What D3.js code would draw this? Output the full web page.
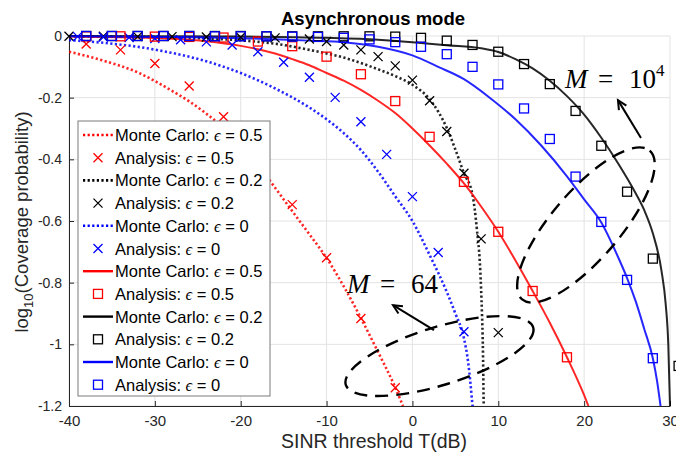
<!DOCTYPE html>
<html>
<head>
<meta charset="utf-8">
<script src="https://cdn.jsdelivr.net/npm/d3@7"></script>
<style>
  html, body { margin: 0; padding: 0; background: #fff; }
  svg { display: block; }
  text { font-family: "Liberation Sans", Arial, sans-serif; }
</style>
</head>
<body>
<svg id="chart" width="676" height="453"></svg>
<script>
// ---- axis ticks ----
const xTicks = [-40, -30, -20, -10, 0, 10, 20, 30];
const yTicks = [0, -0.2, -0.4, -0.6, -0.8, -1, -1.2];

// ---- M = 64 : Monte Carlo curves [T (dB), log10 Pc] ----
const mc64_e05 = [[-40,-0.051],[-36,-0.08],[-32,-0.118],[-30,-0.146],[-28,-0.178],[-26,-0.212],[-24,-0.252],[-22,-0.298],
  [-20,-0.352],[-18,-0.418],[-16,-0.492],[-14,-0.568],[-12,-0.643],[-10,-0.72],[-8,-0.812],[-6,-0.915],[-4,-1.025],[-2,-1.14],[-1.1,-1.2]];
const mc64_e02 = [[-40,-0.001],[-32,-0.003],[-24,-0.008],[-20,-0.014],[-16,-0.025],[-12,-0.045],[-8,-0.07],[-4,-0.108],
  [-2,-0.13],[0,-0.158],[2,-0.205],[3,-0.245],[4,-0.298],[5,-0.368],[6,-0.445],[7,-0.515],[7.5,-0.625],[7.9,-0.76],[8.1,-0.9],[8.2,-1.0],[8.3,-1.2]];
const mc64_e0 = [[-40,-0.013],[-36,-0.022],[-32,-0.035],[-28,-0.055],[-24,-0.082],[-20,-0.12],[-16,-0.17],[-12,-0.232],
  [-10,-0.27],[-8,-0.315],[-6,-0.37],[-4,-0.44],[-2,-0.52],[0,-0.6],[2,-0.71],[4,-0.83],[5,-0.9],[6,-0.98],[6.5,-1.06],[7,-1.2]];

// ---- M = 64 : analysis points ----
const an64_e05 = [[-38,-0.026],[-34,-0.045],[-30,-0.089],[-26,-0.162],[-22,-0.262],[-18,-0.39],[-14,-0.547],[-10,-0.719],[-6,-0.916],[-2,-1.141]];
const an64_e02 = [[-40,-0.001],[-36,-0.001],[-32,-0.002],[-28,-0.002],[-24,-0.003],[-20,-0.004],[-16,-0.006],[-12,-0.01],
  [-10,-0.018],[-8,-0.029],[-6,-0.045],[-4,-0.067],[-2,-0.097],[0,-0.143],[2,-0.21],[4,-0.31],[6,-0.445],[8,-0.658],[10,-0.962]];
const an64_e0 = [[-39,-0.002],[-36,-0.003],[-33,-0.005],[-30,-0.008],[-27,-0.012],[-24,-0.019],[-21,-0.029],[-18,-0.051],
  [-15,-0.085],[-12,-0.134],[-9,-0.199],[-6,-0.278],[-3,-0.384],[0,-0.521],[3,-0.702],[6,-0.959]];

// ---- M = 10^4 : Monte Carlo curves ----
const mc1e4_e05 = [[-40,-0.002],[-36,-0.003],[-32,-0.005],[-28,-0.009],[-24,-0.017],[-20,-0.032],[-18,-0.043],[-16,-0.057],
  [-14,-0.075],[-12,-0.095],[-10,-0.12],[-8,-0.145],[-6,-0.175],[-4,-0.21],[-2,-0.25],[0,-0.3],[2,-0.355],[4,-0.414],
  [6,-0.478],[8,-0.553],[10,-0.635],[12,-0.728],[14,-0.827],[16,-0.93],[18,-1.042],[20,-1.165],[20.5,-1.2]];
const mc1e4_e02 = [[-40,0],[-20,-0.002],[-10,-0.006],[-4,-0.012],[0,-0.02],[4,-0.03],[8,-0.04],[10,-0.052],[12,-0.075],
  [14,-0.105],[16,-0.145],[18,-0.195],[20,-0.255],[22,-0.33],[24,-0.415],[26,-0.51],[27,-0.565],[28,-0.64],[29,-0.76],
  [29.5,-0.87],[29.8,-1.0],[30,-1.2]];
const mc1e4_e0 = [[-40,-0.001],[-30,-0.003],[-20,-0.007],[-12,-0.015],[-8,-0.02],[-4,-0.035],[0,-0.063],[3,-0.1],[6,-0.14],
  [9,-0.2],[12,-0.27],[15,-0.355],[18,-0.455],[20,-0.53],[22,-0.605],[24,-0.72],[25,-0.785],[26,-0.86],[27,-0.95],
  [28,-1.045],[28.5,-1.12],[28.9,-1.2]];

// ---- M = 10^4 : analysis points ----
const an1e4_e05 = [[-38,-0.001],[-34,-0.001],[-30,-0.002],[-26,-0.003],[-22,-0.005],[-18,-0.018],[-14,-0.033],[-10,-0.067],
  [-6,-0.124],[-2,-0.211],[2,-0.327],[6,-0.473],[10,-0.635],[14,-0.827],[18,-1.042]];
const an1e4_e02 = [[-38,0],[-35,0],[-32,0],[-29,0],[-26,0],[-23,0],[-20,0],[-17,-0.001],[-14,-0.001],[-11,-0.001],[-8,-0.001],
  [-5,-0.001],[-2,-0.002],[1,-0.006],[4,-0.015],[7,-0.029],[10,-0.051],[13,-0.091],[16,-0.156],[19,-0.243],[22,-0.356],
  [25,-0.505],[28,-0.722],[31,-1.07]];
const an1e4_e0 = [[-38,0],[-35,0],[-32,0],[-29,0],[-26,0],[-23,-0.001],[-20,-0.001],[-17,-0.001],[-14,-0.002],[-11,-0.003],
  [-8,-0.006],[-5,-0.011],[-2,-0.02],[1,-0.035],[4,-0.059],[7,-0.1],[10,-0.157],[13,-0.235],[16,-0.334],[19,-0.456],
  [22,-0.603],[25,-0.791],[28,-1.045]];

// ---- legend entries, in drawing order ----
const legendLabels = ["Monte Carlo: ", "Analysis: ", "Monte Carlo: ", "Analysis: ", "Monte Carlo: ", "Analysis: ",
  "Monte Carlo: ", "Analysis: ", "Monte Carlo: ", "Analysis: ", "Monte Carlo: ", "Analysis: "];
const legendEps = ["0.5", "0.5", "0.2", "0.2", "0", "0", "0.5", "0.5", "0.2", "0.2", "0", "0"];

const RED = "#ff0000", BLACK = "#000000", BLUE = "#0000ff";
const series = [
  { data: mc64_e05,  kind: "dot",    color: RED },
  { data: an64_e05,  kind: "x",      color: RED },
  { data: mc64_e02,  kind: "dot",    color: BLACK },
  { data: an64_e02,  kind: "x",      color: BLACK },
  { data: mc64_e0,   kind: "dot",    color: BLUE },
  { data: an64_e0,   kind: "x",      color: BLUE },
  { data: mc1e4_e05, kind: "solid",  color: RED },
  { data: an1e4_e05, kind: "square", color: RED },
  { data: mc1e4_e02, kind: "solid",  color: BLACK },
  { data: an1e4_e02, kind: "square", color: BLACK },
  { data: mc1e4_e0,  kind: "solid",  color: BLUE },
  { data: an1e4_e0,  kind: "square", color: BLUE }
];

// ---- layout ----
const svg = d3.select("#chart");
const x = d3.scaleLinear().domain([-40, 30]).range([69, 670]);
const y = d3.scaleLinear().domain([-1.2, 0]).range([406, 36]);

svg.append("defs").append("clipPath").attr("id", "plotClip")
  .append("rect").attr("x", x(-40)).attr("y", y(0) - 2)
  .attr("width", x(30) - x(-40) + 2).attr("height", y(-1.2) - y(0) + 2);

// grid
const grid = svg.append("g").attr("stroke", "#e3e3e3").attr("stroke-width", 1);
grid.selectAll("line.gx").data(xTicks).join("line")
  .attr("x1", d => x(d)).attr("x2", d => x(d)).attr("y1", y(0)).attr("y2", y(-1.2));
grid.selectAll("line.gy").data(yTicks).join("line")
  .attr("x1", x(-40)).attr("x2", x(30)).attr("y1", d => y(d)).attr("y2", d => y(d));

// axes
const xAxis = d3.axisBottom(x).tickValues(xTicks).tickFormat(d => String(d))
  .tickSizeInner(-5).tickSizeOuter(0).tickPadding(9);
const yAxis = d3.axisLeft(y).tickValues(yTicks).tickFormat(d => String(d))
  .tickSizeInner(-5).tickSizeOuter(0).tickPadding(7);
function styleAxis(g, size) {
  g.select(".domain").attr("stroke", "#262626").attr("stroke-width", 1);
  g.selectAll(".tick line").attr("stroke", "#262626");
  g.selectAll(".tick text").attr("fill", "#262626")
    .style("font-family", "'Liberation Sans', Arial, sans-serif").style("font-size", size);
}
svg.append("g").attr("transform", `translate(0,${y(-1.2)})`).call(xAxis).call(styleAxis, "15px");
svg.append("g").attr("transform", `translate(${x(-40)},0)`).call(yAxis).call(styleAxis, "14px");

// curves
const line = d3.line().x(d => x(d[0])).y(d => y(d[1])).curve(d3.curveMonotoneX);
const plot = svg.append("g");
const lines = plot.append("g").attr("clip-path", "url(#plotClip)");
const marks = plot.append("g");

function xPath(s) { return `M${-s},${-s}L${s},${s}M${-s},${s}L${s},${-s}`; }

series.forEach(s => {
  if (s.kind === "dot" || s.kind === "solid") {
    lines.append("path").datum(s.data).attr("d", line)
      .attr("fill", "none").attr("stroke", s.color)
      .attr("stroke-width", s.kind === "dot" ? 2.6 : 2)
      .attr("stroke-dasharray", s.kind === "dot" ? "2.2,2.4" : null)
      .attr("opacity", 0.85);
  }
});
series.forEach(s => {
  if (s.kind === "x") {
    marks.append("g").selectAll("path").data(s.data).join("path")
      .attr("transform", d => `translate(${x(d[0])},${y(d[1])})`)
      .attr("d", xPath(4.5)).attr("stroke", s.color).attr("stroke-width", 1.3).attr("fill", "none");
  } else if (s.kind === "square") {
    marks.append("g").selectAll("rect").data(s.data).join("rect")
      .attr("x", d => x(d[0]) - 4.5).attr("y", d => y(d[1]) - 4.5)
      .attr("width", 9).attr("height", 9)
      .attr("stroke", s.color).attr("stroke-width", 1.3).attr("fill", "none");
  }
});

// annotations: ellipses, arrows and M labels
const ann = svg.append("g").attr("stroke", "#000").attr("fill", "none");
ann.append("ellipse")
  .attr("transform", `translate(${x(20.21)},${y(-0.613)}) rotate(-49.4)`)
  .attr("rx", 98).attr("ry", 34)
  .attr("stroke-width", 2.4).attr("stroke-dasharray", "13,8");
ann.append("ellipse")
  .attr("transform", `translate(${x(3.15)},${y(-1.038)}) rotate(-17.1)`)
  .attr("rx", 98).attr("ry", 29)
  .attr("stroke-width", 2.4).attr("stroke-dasharray", "13,8");

function arrow(x0, y0, x1, y1) {
  const px0 = x(x0), py0 = y(y0), px1 = x(x1), py1 = y(y1);
  const a = Math.atan2(py1 - py0, px1 - px0), h = 10, w = 0.45;
  ann.append("line").attr("x1", px0).attr("y1", py0).attr("x2", px1).attr("y2", py1).attr("stroke-width", 2);
  ann.append("path")
    .attr("d", `M${px1 - h * Math.cos(a - w)},${py1 - h * Math.sin(a - w)}L${px1},${py1}L${px1 - h * Math.cos(a + w)},${py1 - h * Math.sin(a + w)}`)
    .attr("stroke-width", 2);
}
arrow(26.62, -0.331, 23.94, -0.208);
arrow(2.51, -0.954, -2.26, -0.873);

const SERIF = "'Liberation Serif', 'DejaVu Serif', serif";
function mLabel(x0, y0, num, sup) {
  const px = x(x0), py = y(y0);
  const g = svg.append("g").attr("fill", "#000");
  const put = (dx, dy, size, txt, italic) => g.append("text")
    .attr("x", px + dx).attr("y", py + dy)
    .style("font-family", SERIF).style("font-size", size)
    .style("font-style", italic ? "italic" : "normal").text(txt);
  put(0, 0, "27px", "M", true);
  put(33, 0, "27px", "=", false);
  put(64, 0, "27px", num, false);
  if (sup) put(91, -12, "17px", sup, false);
}
mLabel(17.77, -0.169, "10", "4");
mLabel(-7.62, -0.834, "64", null);

// legend
const lg = svg.append("g");
lg.append("rect").attr("x", 78).attr("y", 121).attr("width", 192).attr("height", 275)
  .attr("fill", "#fff").attr("stroke", "#7a7a7a").attr("stroke-width", 1);
series.forEach((s, i) => {
  const cy = 135 + i * 22.7;
  if (s.kind === "dot" || s.kind === "solid") {
    lg.append("line").attr("x1", 83).attr("x2", 113).attr("y1", cy).attr("y2", cy)
      .attr("stroke", s.color).attr("stroke-width", s.kind === "dot" ? 2.6 : 2.4)
      .attr("stroke-dasharray", s.kind === "dot" ? "2.2,2.4" : null);
  } else if (s.kind === "x") {
    lg.append("path").attr("transform", `translate(98,${cy})`).attr("d", xPath(4.5))
      .attr("stroke", s.color).attr("stroke-width", 1.3);
  } else {
    lg.append("rect").attr("x", 98 - 4.5).attr("y", cy - 4.5).attr("width", 9).attr("height", 9)
      .attr("fill", "none").attr("stroke", s.color).attr("stroke-width", 1.3);
  }
  const t = lg.append("text").attr("x", 115).attr("y", cy + 6).attr("fill", "#000")
    .style("font-size", "16.5px").attr("xml:space", "preserve");
  t.append("tspan").text(legendLabels[i]);
  t.append("tspan").style("font-family", SERIF).style("font-style", "italic").text("ϵ");
  t.append("tspan").text(" = " + legendEps[i]);
});

// title and axis labels
svg.append("text").attr("x", 373).attr("y", 25).attr("text-anchor", "middle")
  .style("font-size", "18.5px").style("font-weight", "bold").attr("fill", "#000").text("Asynchronous mode");
svg.append("text").attr("x", 374).attr("y", 448).attr("text-anchor", "middle")
  .style("font-size", "19.5px").attr("fill", "#262626").text("SINR threshold T(dB)");
const yl = svg.append("text").attr("transform", `translate(28,222) rotate(-90)`).attr("text-anchor", "middle")
  .style("font-size", "18.5px").attr("fill", "#262626");
yl.append("tspan").text("log");
yl.append("tspan").attr("dy", 5).style("font-size", "13px").text("10");
yl.append("tspan").attr("dy", -5).text("(Coverage probability)");
</script>
</body>
</html>
